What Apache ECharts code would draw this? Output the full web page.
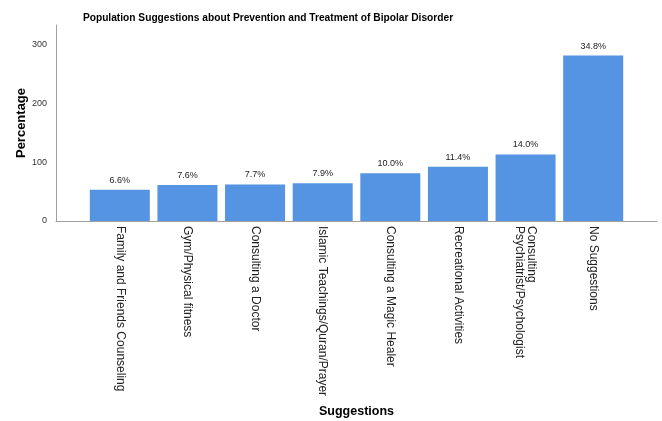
<!DOCTYPE html>
<html>
<head>
<meta charset="utf-8">
<script src="https://cdn.jsdelivr.net/npm/echarts@6/dist/echarts.min.js"></script>
<style>
  html, body { margin: 0; padding: 0; background: #fff; }
  #chart { width: 662px; height: 421px; }
</style>
</head>
<body>
<div id="chart"></div>
<script>
  // counts per suggestion (axis is count, labels show percent of total)
  const categories = [
    'Family and Friends Counseling',
    'Gym/Physical fitness',
    'Consulting a Doctor',
    'Islamic Teachings/Quran/Prayer',
    'Consulting a Magic Healer',
    'Recreational Activities',
    'Consulting\nPsychiatrist/Psychologist',
    'No Suggestions'
  ]
  const counts = [53, 61, 62, 64, 81, 92, 113, 281]
  const pctLabels = ['6.6%', '7.6%', '7.7%', '7.9%', '10.0%', '11.4%', '14.0%', '34.8%']
  const yTicks = [0, 100, 200, 300]

  const yMax = 333
  const font = 'Liberation Sans, Arial, sans-serif'
  const axisGrey = '#a0a0a0'

  const chart = echarts.init(document.getElementById('chart'))

  const option = {
    animation: false,
    title: {
      text: 'Population Suggestions about Prevention and Treatment of Bipolar Disorder',
      left: 263,
      top: 8,
      textAlign: 'center',
      textStyle: { fontFamily: font, fontSize: 10.2, fontWeight: 'bold', color: '#000' }
    },
    grid: [
      // frame grid: draws the axis lines and y labels
      { left: 56, right: 5, top: 25, bottom: 200, outerBoundsMode: 'none' },
      // bar grid: narrower so bars sit inside the frame
      { left: 86, right: 35, top: 25, bottom: 200, outerBoundsMode: 'none' }
    ],
    xAxis: [
      {
        gridIndex: 0,
        type: 'value',
        min: 0,
        max: 1,
        axisLine: { show: true, lineStyle: { color: axisGrey, width: 1 } },
        axisTick: { show: false },
        axisLabel: { show: false },
        splitLine: { show: false },
        name: 'Suggestions',
        nameLocation: 'middle',
        nameGap: 184,
        nameMoveOverlap: false,
        nameTextStyle: { fontFamily: font, fontSize: 12.5, fontWeight: 'bold', color: '#000' }
      },
      {
        gridIndex: 1,
        type: 'category',
        data: categories,
        axisLine: { show: false },
        axisTick: { show: false },
        axisLabel: {
          rotate: -90,
          margin: 5,
          interval: 0,
          fontFamily: font,
          fontSize: 12,
          color: '#222',
          lineHeight: 12
        }
      }
    ],
    yAxis: [
      {
        gridIndex: 0,
        type: 'value',
        min: 0,
        max: yMax,
        interval: 100,
        axisLine: { show: true, lineStyle: { color: axisGrey, width: 1 } },
        axisTick: { show: false },
        splitLine: { show: false },
        axisLabel: {
          margin: 9,
          fontFamily: font,
          fontSize: 9,
          color: '#333',
          formatter: v => (yTicks.includes(v) ? String(v) : '')
        },
        name: 'Percentage',
        nameLocation: 'middle',
        nameGap: 28,
        nameMoveOverlap: false,
        nameTextStyle: { fontFamily: font, fontSize: 13, fontWeight: 'bold', color: '#000' }
      },
      {
        gridIndex: 1,
        type: 'value',
        min: 0,
        max: yMax,
        show: false
      }
    ],
    series: [
      {
        type: 'bar',
        xAxisIndex: 1,
        yAxisIndex: 1,
        data: counts,
        barWidth: 60,
        itemStyle: { color: '#5593e3' },
        label: {
          show: true,
          position: 'top',
          distance: 5,
          fontFamily: font,
          fontSize: 9,
          color: '#222',
          formatter: p => pctLabels[p.dataIndex]
        }
      }
    ]
  }

  chart.setOption(option)
</script>
</body>
</html>
